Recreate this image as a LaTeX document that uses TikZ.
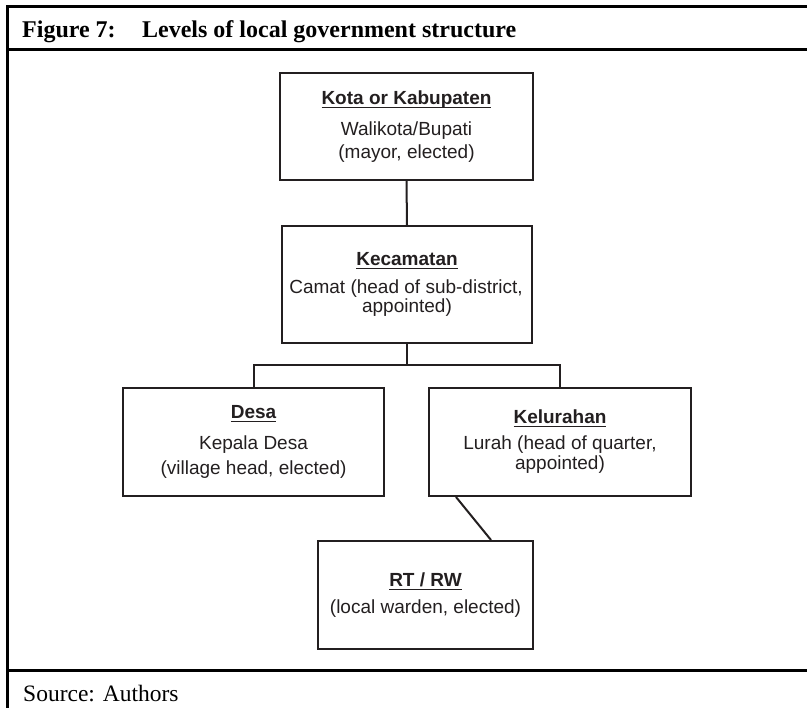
\documentclass[tikz,border=0pt]{standalone}
\usepackage{fontspec}
\setmainfont{Liberation Serif}
\newfontfamily\hv{Liberation Sans}
\definecolor{ink}{RGB}{35,31,32}
\newcommand{\ulin}[1]{\setbox0\hbox{#1}\leavevmode\rlap{\rule[-3.4pt]{\wd0}{1.4pt}}\box0}
\tikzset{
  box/.style={draw=ink, line width=2pt, rectangle, inner sep=0pt},
  txt/.style={anchor=base, inner sep=0pt, text=ink, font=\hv\fontsize{19}{22}\selectfont},
  hdr/.style={txt, font=\hv\bfseries\fontsize{19}{22}\selectfont},
  frame/.style={line width=3pt, black},
  conn/.style={draw=ink, line width=2pt}
}
\begin{document}
\begin{tikzpicture}[x=1pt,y=-1pt]
\useasboundingbox (0,0) rectangle (807,708);
% frame
\coordinate (fTL) at (7,7);
\coordinate (fTR) at (807,7);
\coordinate (fBL) at (7,708);
\coordinate (s1L) at (7,50);
\coordinate (s1R) at (807,50);
\coordinate (s2L) at (7,671);
\coordinate (s2R) at (807,671);
\draw[frame] (fTR) -- (fTL) -- (fBL);
\draw[frame] (s1L) -- (s1R);
\draw[frame] (s2L) -- (s2R);
\node[anchor=base west, inner sep=0pt] (title) at (22,38)
  {\fontsize{24}{28}\selectfont\bfseries Figure 7:\hspace{1.1em}Levels of local government structure};
\node[anchor=base west, inner sep=0pt] (src) at (23,702)
  {\fontsize{23.5}{28}\selectfont Source: Authors};
% boxes
\node[box, minimum width=253pt, minimum height=107pt] (kota) at (406.5,126.5) {};
\node[box, minimum width=250pt, minimum height=117pt] (kec) at (407,284.5) {};
\node[box, minimum width=261pt, minimum height=108pt] (desa) at (253.5,442) {};
\node[box, minimum width=262pt, minimum height=108pt] (kel) at (560,442) {};
\node[box, minimum width=215pt, minimum height=108pt] (rt) at (425.5,595) {};
% texts
\node[hdr] (kota1) at (406.5,105) {\ulin{Kota or Kabupaten}};
\node[txt] (kota2) at (406.5,136) {Walikota/Bupati};
\node[txt] (kota3) at (406.5,159) {(mayor, elected)};
\node[hdr] (kec1) at (407,266) {\ulin{Kecamatan}};
\node[txt] (kec2) at (406,294) {Camat (head of sub-district,};
\node[txt] (kec3) at (407,313) {appointed)};
\node[hdr] (desa1) at (253.5,419) {\ulin{Desa}};
\node[txt] (desa2) at (253.5,450) {Kepala Desa};
\node[txt] (desa3) at (253.5,475) {(village head, elected)};
\node[hdr] (kel1) at (560,424) {\ulin{Kelurahan}};
\node[txt] (kel2) at (560,450) {Lurah (head of quarter,};
\node[txt] (kel3) at (560,470) {appointed)};
\node[hdr] (rt1) at (425.5,587) {\ulin{RT / RW}};
\node[txt] (rt2) at (425.5,614) {(local warden, elected)};
% connectors
\draw[conn] (kota.south) -- (kec.north);
\coordinate (jn) at (407,365);
\draw[conn] (kec.south) -- (jn);
\draw[conn] (desa.north) |- (jn) -| (kel.north);
\draw[conn] ([xshift=-104pt]kel.south) -- ([xshift=65.5pt]rt.north);
\end{tikzpicture}
\end{document}
